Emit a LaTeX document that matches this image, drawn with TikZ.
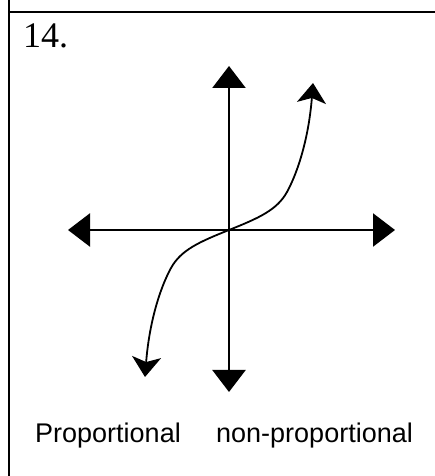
\documentclass[tikz,border=0pt]{standalone}
\usepackage{fontspec}
\setmainfont{Liberation Serif}
\newfontfamily\labelfont{Liberation Sans}
\usetikzlibrary{arrows.meta}
\tikzset{
  frameline/.style={line width=2.5pt},
  axisline/.style={line width=2.4pt, {Triangle[length=22pt,width=33pt]}-{Triangle[length=22pt,width=33pt]}},
  curveline/.style={line width=1.8pt, {Stealth[length=20pt,width=29pt,inset=5pt]}-{Stealth[length=20pt,width=29pt,inset=5pt]}},
  numtext/.style={inner sep=0pt, anchor=base west, font=\fontsize{36}{40}\selectfont},
  labtext/.style={inner sep=0pt, anchor=base west, font=\labelfont\fontsize{27}{32}\selectfont}
}
\begin{document}
\begin{tikzpicture}[x=1pt,y=1pt]
\useasboundingbox (0,0) rectangle (435,476);
% frame
\coordinate (ftop) at (9,476);
\coordinate (fbot) at (9,0);
\coordinate (hl) at (9,464);
\coordinate (hr) at (435,464);
\draw[frameline] (ftop) -- (fbot);
\draw[frameline] (hl) -- (hr);
% number
\node[numtext] (num) at (23,428) {14.};
% axes
\coordinate (O) at (229,246);
\coordinate (up) at (229,410);
\coordinate (dn) at (229,84);
\coordinate (lf) at (68,246);
\coordinate (rt) at (395,246);
\draw[axisline] (dn) -- (up);
\draw[axisline] (lf) -- (rt);
% curve
\begin{scope}[shift={(O)}]
\coordinate (cl) at (-84,-147);
\coordinate (cu) at (84,147);
\draw[curveline] (cl) .. controls (-80,-95) and (-70,-60) .. (-58,-38)
  .. controls (-48,-20) and (-30,-12) .. (0,0)
  .. controls (30,12) and (48,20) .. (58,38)
  .. controls (70,60) and (80,95) .. (cu);
\end{scope}
% labels
\node[labtext] (prop) at (35,33) {Proportional};
\node[labtext] (nonprop) at (216,33) {non-proportional};
\end{tikzpicture}
\end{document}
